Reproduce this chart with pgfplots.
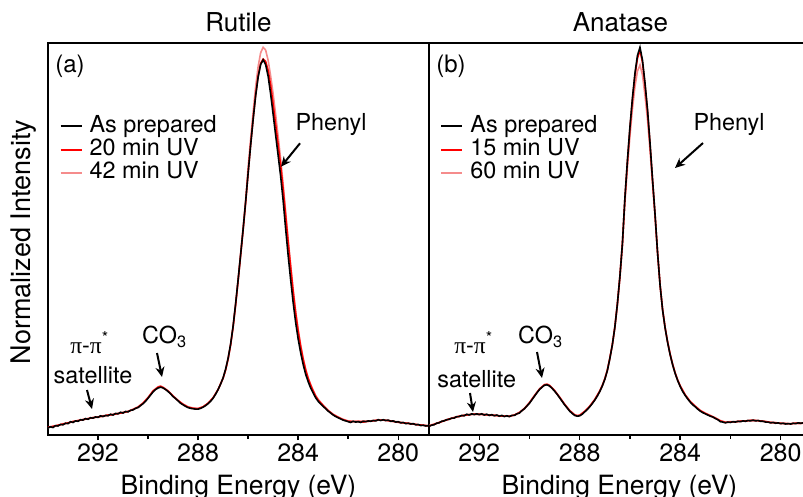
\documentclass[border=0pt]{standalone}
\usepackage{fontspec}
\setmainfont{TeX Gyre Heros}
\newfontfamily\grk{Liberation Serif}
\usepackage{pgfplots}
\pgfplotsset{compat=1.18}
\usetikzlibrary{arrows.meta}
\definecolor{pinkUV}{RGB}{245,140,140}
\newcommand\fs[1]{\fontsize{#1}{#1}\selectfont}
\newcommand\pipi{{\grk π}-{\grk π}\textsuperscript{*}}

\pgfplotsset{
 panel/.style={
  scale only axis, height=392pt, ymin=0, ymax=100, x dir=reverse,
  ytick=\empty, xtick={280,284,288,292}, minor xtick={282,286,290},
  xtick pos=bottom, tick align=outside,
  major tick length=5pt, minor tick length=3.5pt,
  every tick/.style={black, line width=1.4pt},
  axis line style={line width=2.4pt},
  /pgf/number format/assume math mode=true,
  ticklabel style={font=\fs{25}},
  legend cell align=left,
  legend style={draw=none, fill=none, font=\fs{23.4},
    nodes={inner sep=0pt, text height=17.5pt, text depth=5.9pt},
    row sep=0pt, column sep=7pt, anchor=north west},
  legend image code/.code={\draw[#1, line width=2pt] (0pt,0pt) -- (21pt,0pt);},
 },
 dat/.style={line width=1.6pt},
}
\tikzset{arr/.style={line width=2pt, -{Stealth[length=10pt, width=9pt]}}}

\begin{document}
\begin{tikzpicture}
\path[use as bounding box] (0,0) rectangle (803pt,496pt);

% ---------------- Panel (a) Rutile ----------------
\begin{axis}[panel, width=381pt, xmin=278.77, xmax=294,
  at={(48pt,61pt)}, anchor=south west,
  legend style={at={(0.022,0.823)}}]
\addplot[dat, color=pinkUV, forget plot] coordinates {
(294.0,1.9)(293.8,2.2)(293.6,2.4)(293.4,2.9)(293.2,3.0)(293.0,3.5)(292.8,3.6)(292.6,4.0)(292.4,4.1)(292.2,4.5)(292.0,4.6)(291.8,4.9)(291.6,5.0)(291.4,5.3)(291.2,5.4)(291.0,5.8)(290.8,6.0)(290.6,6.6)(290.4,7.2)(290.2,8.2)(290.0,9.6)(289.8,11.3)(289.6,12.3)(289.5,12.5)(289.4,12.2)(289.2,11.3)(289.0,10.0)(288.8,8.8)(288.6,7.9)(288.4,7.2)(288.2,6.9)(288.0,6.8)(287.8,7.2)(287.6,8.1)(287.4,9.5)(287.2,11.6)(287.0,14.5)(286.9,16.6)(286.8,19.4)(286.7,23.0)(286.6,27.6)(286.5,33.3)(286.4,39.6)(286.3,46.3)(286.2,53.0)(286.1,59.8)(286.0,68.4)(285.9,75.5)(285.8,82.4)(285.7,88.8)(285.6,94.0)(285.5,97.5)(285.4,98.9)(285.3,98.2)(285.2,95.6)(285.1,91.6)(285.0,87.0)(284.9,81.8)(284.8,76.2)(284.7,70.4)(284.6,64.0)(284.5,57.0)(284.4,50.0)(284.3,43.5)(284.2,37.2)(284.1,31.6)(284.0,27.0)(283.9,23.0)(283.8,19.6)(283.7,16.8)(283.6,14.6)(283.5,12.9)(283.4,11.4)(283.3,10.1)(283.2,9.1)(283.0,7.6)(282.8,6.3)(282.6,5.3)(282.4,4.6)(282.2,4.0)(282.0,3.6)(281.8,3.5)(281.6,3.4)(281.4,3.6)(281.2,3.5)(281.0,3.7)(280.8,3.9)(280.6,3.8)(280.4,3.6)(280.2,3.4)(280.0,3.2)(279.8,3.1)(279.6,2.9)(279.4,2.8)(279.2,2.6)(279.0,2.5)(278.8,2.4)
};
\addplot[dat, color=red, forget plot] coordinates {
(294.0,2.0)(293.8,2.2)(293.6,2.5)(293.4,2.8)(293.2,3.1)(293.0,3.4)(292.8,3.7)(292.6,3.9)(292.4,4.2)(292.2,4.4)(292.0,4.6)(291.8,4.8)(291.6,5.1)(291.4,5.2)(291.2,5.5)(291.0,5.7)(290.8,6.0)(290.6,6.5)(290.4,7.1)(290.2,8.1)(290.0,9.5)(289.8,11.2)(289.6,12.2)(289.5,12.4)(289.4,12.1)(289.2,11.2)(289.0,9.9)(288.8,8.8)(288.6,7.8)(288.4,7.1)(288.2,6.8)(288.0,6.7)(287.8,7.2)(287.6,8.1)(287.4,9.5)(287.2,11.6)(287.0,14.5)(286.9,16.6)(286.8,19.4)(286.7,23.0)(286.6,27.6)(286.5,33.2)(286.4,39.4)(286.3,45.8)(286.2,52.3)(286.1,59.2)(286.0,66.8)(285.9,74.0)(285.8,80.6)(285.7,86.7)(285.6,91.6)(285.5,94.8)(285.4,95.9)(285.3,95.3)(285.2,93.0)(285.1,89.2)(285.0,84.4)(284.9,79.2)(284.8,74.0)(284.7,68.8)(284.6,62.8)(284.5,56.0)(284.4,49.2)(284.3,42.8)(284.2,36.6)(284.1,31.1)(284.0,26.5)(283.9,22.6)(283.8,19.3)(283.7,16.6)(283.6,14.4)(283.5,12.7)(283.4,11.2)(283.3,9.9)(283.2,8.9)(283.0,7.5)(282.8,6.2)(282.6,5.2)(282.4,4.5)(282.2,3.9)(282.0,3.5)(281.8,3.4)(281.6,3.5)(281.4,3.3)(281.2,3.5)(281.0,3.6)(280.8,3.8)(280.6,3.8)(280.4,3.7)(280.2,3.5)(280.0,3.3)(279.8,3.1)(279.6,3.0)(279.4,2.8)(279.2,2.6)(279.0,2.5)(278.8,2.3)
};
\addplot[dat, color=black, forget plot] coordinates {
(294.0,1.8)(293.9,2.1)(293.8,1.9)(293.7,2.4)(293.6,2.3)(293.5,2.7)(293.4,2.6)(293.3,3.0)(293.2,2.9)(293.1,3.4)(293.0,3.2)(292.9,3.6)(292.8,3.5)(292.7,3.9)(292.6,3.8)(292.5,4.2)(292.4,4.0)(292.3,4.4)(292.2,4.3)(292.1,4.6)(292.0,4.5)(291.9,4.9)(291.8,4.7)(291.7,5.0)(291.6,4.9)(291.5,5.3)(291.4,5.1)(291.3,5.5)(291.2,5.4)(291.1,5.8)(291.0,5.6)(290.9,6.0)(290.8,5.9)(290.7,6.3)(290.6,6.4)(290.5,6.8)(290.4,7.0)(290.3,7.5)(290.2,8.0)(290.1,8.6)(290.0,9.4)(289.9,10.2)(289.8,11.0)(289.7,11.6)(289.6,12.0)(289.5,12.2)(289.4,12.0)(289.3,11.6)(289.2,11.1)(289.1,10.5)(289.0,9.8)(288.9,9.3)(288.8,8.7)(288.7,8.1)(288.6,7.7)(288.5,7.3)(288.4,7.0)(288.3,6.8)(288.2,6.7)(288.1,6.6)(288.0,6.6)(287.9,6.8)(287.8,7.1)(287.7,7.5)(287.6,8.0)(287.5,8.6)(287.4,9.4)(287.3,10.4)(287.2,11.6)(287.1,13.0)(287.0,14.6)(286.9,16.8)(286.8,19.6)(286.7,23.2)(286.6,27.8)(286.5,33.5)(286.4,39.6)(286.3,46.0)(286.2,52.5)(286.1,59.5)(286.0,66.8)(285.9,73.9)(285.8,80.5)(285.7,86.5)(285.6,91.3)(285.5,94.5)(285.4,95.7)(285.3,94.5)(285.2,91.5)(285.1,87.0)(285.0,81.8)(284.9,76.5)(284.8,71.3)(284.7,66.0)(284.6,59.8)(284.5,52.6)(284.4,45.8)(284.3,39.6)(284.2,33.8)(284.1,28.7)(284.0,24.5)(283.9,21.0)(283.8,18.0)(283.7,15.5)(283.6,13.6)(283.5,12.0)(283.4,10.7)(283.3,9.5)(283.2,8.6)(283.1,7.9)(283.0,7.3)(282.9,6.7)(282.8,6.1)(282.7,5.6)(282.6,5.1)(282.5,4.7)(282.4,4.4)(282.3,4.1)(282.2,3.8)(282.1,3.6)(282.0,3.4)(281.9,3.2)(281.8,3.5)(281.7,3.3)(281.6,3.4)(281.5,3.2)(281.4,3.5)(281.3,3.4)(281.2,3.6)(281.1,3.5)(281.0,3.7)(280.9,3.6)(280.8,3.9)(280.7,3.7)(280.6,3.9)(280.5,3.7)(280.4,3.8)(280.3,3.5)(280.2,3.6)(280.1,3.3)(280.0,3.4)(279.9,3.1)(279.8,3.2)(279.7,2.9)(279.6,3.0)(279.5,2.8)(279.4,2.9)(279.3,2.6)(279.2,2.7)(279.1,2.4)(279.0,2.5)(278.9,2.3)(278.8,2.4)
};
\addlegendimage{dat, color=black}\addlegendentry{As prepared}
\addlegendimage{dat, color=red}\addlegendentry{20 min UV}
\addlegendimage{dat, color=pinkUV}\addlegendentry{42 min UV}
\end{axis}

% ---------------- Panel (b) Anatase ----------------
\begin{axis}[panel, width=376pt, xmin=279.03, xmax=294,
  at={(429pt,61pt)}, anchor=south west,
  legend style={at={(0.022,0.823)}}]
\addplot[dat, color=pinkUV, forget plot] coordinates {
(294.0,2.4)(293.8,2.8)(293.6,3.1)(293.4,3.7)(293.2,4.0)(293.0,4.5)(292.8,4.7)(292.6,5.1)(292.4,5.2)(292.2,5.4)(292.0,5.2)(291.8,5.3)(291.6,5.0)(291.4,5.1)(291.2,4.8)(291.0,4.9)(290.8,4.7)(290.6,5.1)(290.4,5.8)(290.2,6.7)(290.0,8.3)(289.8,10.1)(289.6,11.8)(289.4,12.9)(289.3,13.0)(289.2,12.7)(289.0,11.4)(288.8,9.7)(288.6,7.9)(288.4,6.3)(288.2,5.2)(288.1,5.0)(288.0,5.1)(287.8,6.1)(287.6,7.4)(287.4,9.1)(287.2,11.3)(287.1,12.7)(287.0,14.4)(286.9,16.6)(286.8,19.6)(286.7,23.0)(286.6,27.4)(286.5,33.1)(286.4,39.9)(286.3,48.0)(286.2,59.2)(286.1,68.2)(286.0,76.2)(285.9,83.2)(285.8,88.9)(285.7,92.8)(285.6,94.4)(285.5,91.8)(285.4,86.6)(285.3,80.4)(285.2,72.6)(285.1,64.0)(285.0,55.6)(284.9,46.4)(284.8,38.2)(284.7,32.0)(284.6,27.4)(284.5,23.8)(284.4,20.7)(284.3,18.1)(284.2,15.9)(284.1,14.1)(284.0,12.6)(283.8,10.3)(283.6,8.6)(283.4,7.4)(283.2,6.3)(283.0,5.6)(282.8,5.0)(282.6,4.4)(282.4,3.7)(282.2,3.3)(282.0,3.4)(281.8,3.3)(281.6,3.6)(281.4,3.5)(281.2,3.8)(281.0,3.7)(280.8,3.6)(280.6,3.5)(280.4,3.2)(280.2,3.2)(280.0,2.9)(279.8,3.0)(279.6,2.8)(279.4,3.0)(279.2,2.9)(279.0,3.1)
};
\addplot[dat, color=red, forget plot] coordinates {
(294.0,2.3)(293.8,2.7)(293.6,3.2)(293.4,3.6)(293.2,4.1)(293.0,4.4)(292.8,4.8)(292.6,5.0)(292.4,5.2)(292.2,5.3)(292.0,5.3)(291.8,5.2)(291.6,5.1)(291.4,5.0)(291.2,4.9)(291.0,4.8)(290.8,4.8)(290.6,5.1)(290.4,5.7)(290.2,6.8)(290.0,8.2)(289.8,10.0)(289.6,11.7)(289.4,12.8)(289.3,12.9)(289.2,12.6)(289.0,11.3)(288.8,9.6)(288.6,7.8)(288.4,6.2)(288.2,5.1)(288.1,4.9)(288.0,5.0)(287.8,6.0)(287.6,7.3)(287.4,9.0)(287.2,11.2)(287.1,12.6)(287.0,14.3)(286.9,16.5)(286.8,19.6)(286.7,23.1)(286.6,27.6)(286.5,33.5)(286.4,40.5)(286.3,48.9)(286.2,60.4)(286.1,69.8)(286.0,78.2)(285.9,85.5)(285.8,91.7)(285.7,96.1)(285.6,98.2)(285.5,95.0)(285.4,89.3)(285.3,82.6)(285.2,74.2)(285.1,65.0)(285.0,56.2)(284.9,46.5)(284.8,38.3)(284.7,32.0)(284.6,27.4)(284.5,23.7)(284.4,20.6)(284.3,18.0)(284.2,15.8)(284.1,14.0)(284.0,12.5)(283.8,10.2)(283.6,8.5)(283.4,7.3)(283.2,6.2)(283.0,5.5)(282.8,4.9)(282.6,4.3)(282.4,3.6)(282.2,3.2)(282.0,3.3)(281.8,3.4)(281.6,3.5)(281.4,3.6)(281.2,3.7)(281.0,3.7)(280.8,3.6)(280.6,3.4)(280.4,3.2)(280.2,3.1)(280.0,3.0)(279.8,2.9)(279.6,2.9)(279.4,3.0)(279.2,3.0)(279.0,3.1)
};
\addplot[dat, color=black, forget plot] coordinates {
(294.0,2.2)(293.9,2.5)(293.8,2.6)(293.7,3.0)(293.6,3.1)(293.5,3.5)(293.4,3.6)(293.3,3.9)(293.2,4.0)(293.1,4.3)(293.0,4.3)(292.9,4.7)(292.8,4.7)(292.7,5.0)(292.6,4.9)(292.5,5.3)(292.4,5.1)(292.3,5.4)(292.2,5.2)(292.1,5.4)(292.0,5.2)(291.9,5.4)(291.8,5.1)(291.7,5.3)(291.6,5.0)(291.5,5.2)(291.4,4.9)(291.3,5.1)(291.2,4.8)(291.1,5.0)(291.0,4.7)(290.9,4.9)(290.8,4.7)(290.7,5.0)(290.6,5.0)(290.5,5.4)(290.4,5.6)(290.3,6.2)(290.2,6.7)(290.1,7.4)(290.0,8.1)(289.9,9.0)(289.8,9.9)(289.7,10.8)(289.6,11.6)(289.5,12.2)(289.4,12.7)(289.3,12.8)(289.2,12.5)(289.1,11.9)(289.0,11.2)(288.9,10.4)(288.8,9.5)(288.7,8.6)(288.6,7.7)(288.5,6.9)(288.4,6.1)(288.3,5.5)(288.2,5.0)(288.1,4.8)(288.0,4.9)(287.9,5.3)(287.8,5.9)(287.7,6.5)(287.6,7.2)(287.5,8.0)(287.4,8.9)(287.3,9.9)(287.2,11.1)(287.1,12.5)(287.0,14.2)(286.9,16.4)(286.8,19.5)(286.7,23.0)(286.6,27.5)(286.5,33.4)(286.4,40.4)(286.3,48.8)(286.2,60.5)(286.1,70.0)(286.0,78.6)(285.9,86.0)(285.8,92.3)(285.7,96.8)(285.6,98.9)(285.5,95.6)(285.4,89.8)(285.3,83.0)(285.2,74.5)(285.1,65.2)(285.0,56.3)(284.9,46.5)(284.8,38.2)(284.7,31.9)(284.6,27.3)(284.5,23.6)(284.4,20.5)(284.3,17.9)(284.2,15.7)(284.1,13.9)(284.0,12.4)(283.9,11.1)(283.8,10.1)(283.7,9.2)(283.6,8.4)(283.5,7.7)(283.4,7.2)(283.3,6.6)(283.2,6.1)(283.1,5.7)(283.0,5.4)(282.9,5.1)(282.8,4.8)(282.7,4.6)(282.6,4.2)(282.5,3.9)(282.4,3.4)(282.3,3.3)(282.2,3.1)(282.1,3.3)(282.0,3.2)(281.9,3.4)(281.8,3.3)(281.7,3.5)(281.6,3.4)(281.5,3.6)(281.4,3.5)(281.3,3.7)(281.2,3.6)(281.1,3.8)(281.0,3.6)(280.9,3.7)(280.8,3.5)(280.7,3.5)(280.6,3.3)(280.5,3.3)(280.4,3.1)(280.3,3.2)(280.2,3.0)(280.1,3.1)(280.0,2.9)(279.9,3.0)(279.8,2.8)(279.7,2.9)(279.6,2.8)(279.5,3.0)(279.4,2.9)(279.3,3.1)(279.2,3.0)(279.1,3.1)(279.0,3.0)
};
\addlegendimage{dat, color=black}\addlegendentry{As prepared}
\addlegendimage{dat, color=red}\addlegendentry{15 min UV}
\addlegendimage{dat, color=pinkUV}\addlegendentry{60 min UV}
\end{axis}

% ---------------- Titles and labels ----------------
\node[font=\fs{26}, anchor=base] at (238.5pt,464pt) {Rutile};
\node[font=\fs{26}, anchor=base] at (620.5pt,464pt) {Anatase};
\node[font=\fs{26.5}, anchor=base] at (238.5pt,1.7pt) {Binding Energy (eV)};
\node[font=\fs{26.5}, anchor=base] at (619.5pt,1.7pt) {Binding Energy (eV)};
\node[font=\fs{27}, anchor=base, rotate=90] at (30.3pt,254pt) {Normalized Intensity};

% ---------------- Annotations (a) ----------------
\node[font=\fs{24}, anchor=center] at (70pt,430pt) {(a)};
\node[font=\fs{23.4}, anchor=base] at (331pt,365pt) {Phenyl};
\draw[arr] (300pt,352.7pt) -- (281pt,329.3pt);
\node[font=\fs{23.4}, anchor=base west, inner sep=0pt] at (142pt,152.7pt) {CO\textsubscript{3}};
\draw[arr] (157pt,143pt) -- (162pt,119pt);
\node[font=\fs{23.4}, anchor=base] at (89.5pt,143pt) {\pipi};
\node[font=\fs{23.4}, anchor=base] at (93pt,113pt) {satellite};
\draw[arr] (87pt,106pt) -- (92pt,87pt);

% ---------------- Annotations (b) ----------------
\node[font=\fs{24}, anchor=center] at (451pt,430pt) {(b)};
\node[font=\fs{23.4}, anchor=base] at (729pt,365pt) {Phenyl};
\draw[arr] (703pt,353pt) -- (675pt,328pt);
\node[font=\fs{23.4}, anchor=base west, inner sep=0pt] at (518pt,152.7pt) {CO\textsubscript{3}};
\draw[arr] (537pt,144pt) -- (542pt,118pt);
\node[font=\fs{23.4}, anchor=base] at (473.5pt,143pt) {\pipi};
\node[font=\fs{23.4}, anchor=base] at (476.7pt,109pt) {satellite};
\draw[arr] (470pt,103pt) -- (473pt,84pt);
\end{tikzpicture}
\end{document}
